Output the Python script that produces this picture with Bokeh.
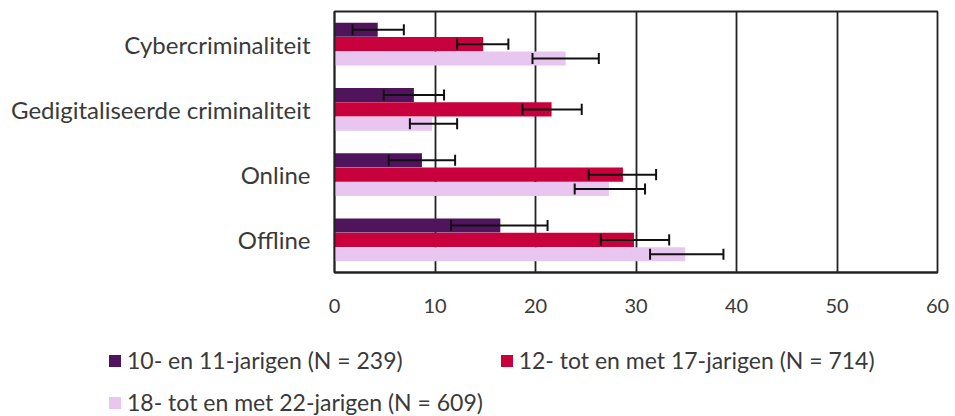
from bokeh.plotting import figure
from bokeh.models import FactorRange, Range1d, FixedTicker, Legend, LegendItem, ColumnDataSource
from bokeh.transform import dodge
from bokeh.embed import file_html
from bokeh.resources import INLINE

categories = ["Cybercriminaliteit", "Gedigitaliseerde criminaliteit", "Online", "Offline"]
series_names = ["10- en 11-jarigen (N = 239)",
                "12- tot en met 17-jarigen (N = 714)",
                "18- tot en met 22-jarigen (N = 609)"]
values_10_11 = [4.3, 7.9, 8.7, 16.5]
lower_10_11 = [1.8, 4.9, 5.4, 11.6]
upper_10_11 = [6.9, 10.9, 12.0, 21.2]
values_12_17 = [14.8, 21.6, 28.7, 29.8]
lower_12_17 = [12.2, 18.7, 25.3, 26.5]
upper_12_17 = [17.3, 24.6, 32.0, 33.3]
values_18_22 = [23.0, 9.7, 27.3, 34.9]
lower_18_22 = [19.7, 7.5, 23.9, 31.4]
upper_18_22 = [26.3, 12.2, 30.9, 38.7]
x_ticks = [0, 10, 20, 30, 40, 50, 60]

colors = ["#4f145b", "#c8003c", "#e8c6f0"]
offsets = [0.22, 0.0, -0.22]
text_color = "#3a3a3a"
line_col = "#222222"
FONT = "Lato"

p = figure(width=955, height=330, output_backend="svg", toolbar_location=None, title=None,
           y_range=FactorRange(factors=list(reversed(categories)), range_padding=0),
           x_range=Range1d(0, 60),
           min_border_left=334, min_border_right=18, min_border_top=11, min_border_bottom=58)

p.outline_line_color = line_col
p.outline_line_width = 1.8
p.ygrid.grid_line_color = None
p.xgrid.grid_line_color = line_col
p.xgrid.grid_line_width = 1.8
p.xaxis.ticker = FixedTicker(ticks=x_ticks)
p.xaxis.major_tick_line_color = None
p.xaxis.minor_tick_line_color = None
p.xaxis.axis_line_color = line_col
p.xaxis.axis_line_width = 1.8
p.xaxis.major_label_text_font = FONT
p.xaxis.major_label_text_font_size = "20px"
p.xaxis.major_label_text_color = text_color
p.xaxis.major_label_standoff = 20
p.yaxis.major_tick_line_color = None
p.yaxis.minor_tick_line_color = None
p.yaxis.axis_line_color = line_col
p.yaxis.axis_line_width = 1.8
p.yaxis.major_label_text_font = FONT
p.yaxis.major_label_text_font_size = "24px"
p.yaxis.major_label_text_color = text_color
p.yaxis.major_label_standoff = 18

series = [(values_10_11, lower_10_11, upper_10_11),
          (values_12_17, lower_12_17, upper_12_17),
          (values_18_22, lower_18_22, upper_18_22)]

for (vals, lo, hi), col, off in zip(series, colors, offsets):
    src = ColumnDataSource(dict(cat=categories, val=vals, lo=lo, hi=hi))
    p.hbar(y=dodge("cat", off, range=p.y_range), right="val", left=0, height=0.215,
           source=src, fill_color=col, line_color=None)
    p.segment(x0="lo", x1="hi", y0=dodge("cat", off, range=p.y_range),
              y1=dodge("cat", off, range=p.y_range), source=src,
              line_color="#111111", line_width=2)
    for f in ("lo", "hi"):
        p.segment(x0=f, x1=f, y0=dodge("cat", off - 0.085, range=p.y_range),
                  y1=dodge("cat", off + 0.085, range=p.y_range), source=src,
                  line_color="#111111", line_width=2)

# legend strip below the chart (separate root so it is not frame-aligned)
lf = figure(width=955, height=86, output_backend="svg", toolbar_location=None, title=None,
            x_range=Range1d(0, 955), y_range=Range1d(0, 86),
            x_axis_type=None, y_axis_type=None, min_border=0)
lf.outline_line_color = None
lf.xgrid.visible = False
lf.ygrid.visible = False
swatches = [lf.rect(x=[-100], y=[-100], width=1, height=1, fill_color=c, line_color=None)
            for c in colors]

def make_legend(items, loc, spacing=0):
    return Legend(items=items, location=loc, orientation="horizontal",
                  label_text_font=FONT, label_text_font_size="23px",
                  label_text_color=text_color, glyph_width=15, glyph_height=15,
                  label_standoff=5, spacing=spacing, padding=0, margin=0,
                  background_fill_alpha=0, border_line_color=None)

leg1 = make_legend([LegendItem(label=series_names[0], renderers=[swatches[0]]),
                    LegendItem(label=series_names[1], renderers=[swatches[1]])],
                   (107, 42), spacing=96)
leg2 = make_legend([LegendItem(label=series_names[2], renderers=[swatches[2]])],
                   (107, 0))
lf.add_layout(leg1)
lf.add_layout(leg2)

open("out.html", "w").write(file_html([p, lf], INLINE))
